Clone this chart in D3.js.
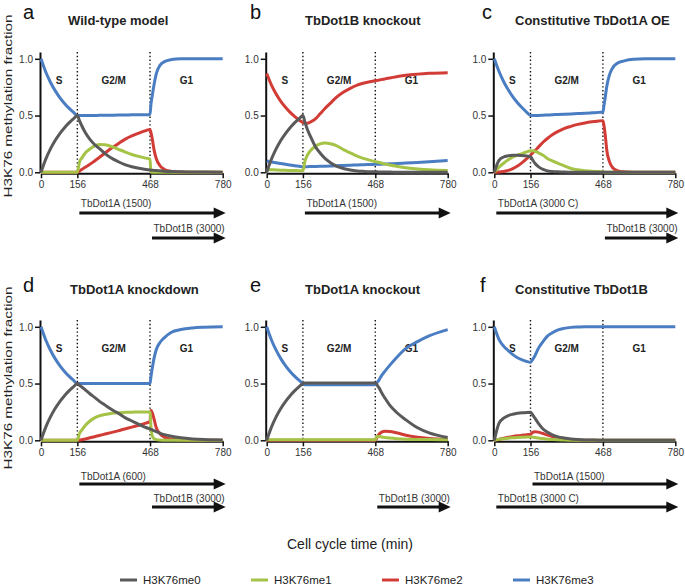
<!DOCTYPE html>
<html><head><meta charset="utf-8">
<script src="https://cdn.jsdelivr.net/npm/d3@7"></script>
<style>body{margin:0;background:#fff}svg{display:block}text{font-family:"Liberation Sans",Arial,sans-serif}</style>
</head><body><svg id="chart" width="685" height="587"></svg>
<script>
// ---------- data ----------
const time = [0,20,40,60,80,100,120,140,156,165,175,190,210,230,250,275,300,330,360,390,420,450,468,472,478,485,495,510,530,560,600,650,700,780];

const a_me0 = [0,0.114,0.204,0.278,0.339,0.391,0.435,0.473,0.5, 0.455,0.41,0.35,0.29,0.245,0.21,0.165,0.128,0.095,0.068,0.049,0.035,0.025, 0.02, 0.019,0.018,0.017,0.015,0.013,0.01,0.007,0.005,0.003,0.002,0.001];
const a_me1 = [0,0,0,0,0,0,0,0,0, 0.09,0.125,0.17,0.205,0.232,0.244,0.242,0.23,0.205,0.18,0.157,0.14,0.125, 0.117, 0,0,0,0,0,0,0,0,0,0,0];
const a_me2 = [0,0,0,0,0,0,0,0,0, 0.01,0.025,0.045,0.07,0.1,0.13,0.17,0.21,0.25,0.29,0.32,0.345,0.367, 0.378, 0.35,0.29,0.2,0.12,0.06,0.025,0.008,0.002,0,0,0];
const a_me3 = [1,0.886,0.796,0.722,0.661,0.609,0.565,0.527,0.5, 0.5,0.5,0.5,0.501,0.501,0.502,0.502,0.503,0.504,0.505,0.506,0.507,0.508, 0.51, 0.6,0.68,0.77,0.87,0.94,0.975,0.993,1,1,1,1];

const b_me0 = [0,0.114,0.204,0.278,0.339,0.391,0.435,0.473,0.5, 0.44,0.38,0.31,0.225,0.17,0.125,0.085,0.055,0.034,0.02,0.012,0.008,0.005, 0.004, 0.004,0.004,0.003,0.003,0.002,0.002,0.001,0.001,0,0,0];
const b_me1 = [0.025,0.023,0.021,0.019,0.017,0.016,0.015,0.014,0.013, 0.1,0.15,0.195,0.23,0.25,0.258,0.252,0.235,0.2,0.172,0.142,0.12,0.103, 0.094, 0.092,0.09,0.087,0.082,0.072,0.064,0.053,0.04,0.03,0.022,0.015];
const b_me2 = [0.87,0.771,0.693,0.628,0.575,0.53,0.492,0.459,0.438, 0.432,0.432,0.445,0.47,0.515,0.56,0.61,0.66,0.705,0.74,0.768,0.787,0.8, 0.807, 0.808,0.81,0.813,0.817,0.823,0.831,0.842,0.855,0.865,0.872,0.878];
const b_me3 = [0.1,0.092,0.084,0.077,0.07,0.064,0.058,0.053,0.05, 0.05,0.05,0.051,0.052,0.053,0.054,0.056,0.058,0.06,0.062,0.065,0.067,0.069, 0.07, 0.07,0.071,0.071,0.072,0.073,0.075,0.077,0.081,0.086,0.092,0.103];

const c_me0 = [0,0.105,0.135,0.145,0.15,0.151,0.148,0.143,0.138, 0.11,0.08,0.05,0.025,0.012,0.007,0.004,0.002,0.001,0,0,0,0, 0, 0,0,0,0,0,0,0,0,0,0,0];
const c_me1 = [0,0.045,0.08,0.11,0.135,0.152,0.165,0.18,0.19, 0.19,0.185,0.172,0.15,0.12,0.1,0.078,0.058,0.034,0.022,0.014,0.009,0.006, 0.005, 0.002,0,0,0,0,0,0,0,0,0,0];
const c_me2 = [0,0.002,0.007,0.017,0.033,0.055,0.085,0.12,0.15, 0.17,0.19,0.222,0.265,0.3,0.33,0.36,0.385,0.405,0.422,0.435,0.445,0.452, 0.455, 0.42,0.33,0.19,0.1,0.04,0.015,0.004,0.001,0,0,0];
const c_me3 = [1,0.89,0.8,0.727,0.665,0.613,0.568,0.528,0.5, 0.5,0.5,0.501,0.503,0.505,0.507,0.509,0.511,0.514,0.517,0.52,0.524,0.528, 0.53, 0.58,0.66,0.76,0.85,0.92,0.96,0.982,0.996,1,1,1];

const d_me0 = [0,0.114,0.204,0.278,0.339,0.391,0.435,0.473,0.5, 0.485,0.47,0.445,0.41,0.378,0.345,0.31,0.275,0.24,0.2,0.17,0.14,0.113, 0.1, 0.097,0.092,0.085,0.076,0.064,0.05,0.035,0.022,0.012,0.006,0.002];
const d_me1 = [0,0,0,0,0,0,0,0,0, 0.06,0.09,0.13,0.17,0.198,0.215,0.228,0.237,0.243,0.246,0.248,0.249,0.25, 0.25, 0.12,0.035,0.015,0.006,0.002,0,0,0,0,0,0];
const d_me2 = [0,0,0,0,0,0,0,0,0, 0.002,0.005,0.012,0.022,0.032,0.042,0.055,0.068,0.083,0.1,0.116,0.133,0.152, 0.165, 0.265,0.24,0.19,0.11,0.06,0.028,0.01,0.002,0,0,0];
const d_me3 = [1,0.886,0.796,0.722,0.661,0.609,0.565,0.527,0.5, 0.5,0.5,0.5,0.5,0.5,0.5,0.5,0.5,0.5,0.5,0.5,0.5,0.5, 0.5, 0.56,0.64,0.72,0.8,0.86,0.905,0.952,0.976,0.99,0.996,1];

const e_me0 = [0,0.114,0.204,0.278,0.339,0.391,0.435,0.473,0.5, 0.505,0.505,0.505,0.505,0.505,0.505,0.505,0.505,0.505,0.505,0.505,0.505,0.505, 0.505, 0.5,0.48,0.46,0.42,0.37,0.31,0.245,0.18,0.11,0.065,0.024];
const e_me1 = [0.005,0.005,0.005,0.005,0.005,0.005,0.005,0.005,0.005, 0.005,0.005,0.005,0.005,0.005,0.005,0.005,0.005,0.005,0.005,0.005,0.005,0.005, 0.005, 0.025,0.033,0.033,0.03,0.025,0.02,0.014,0.009,0.007,0.006,0.005];
const e_me2 = [0,0,0,0,0,0,0,0,0, 0,0,0,0,0,0,0,0,0,0,0,0,0, 0, 0.01,0.035,0.055,0.072,0.08,0.078,0.066,0.045,0.028,0.017,0.007];
const e_me3 = [1,0.886,0.796,0.722,0.661,0.609,0.565,0.527,0.5, 0.49,0.49,0.49,0.49,0.49,0.49,0.49,0.49,0.49,0.49,0.49,0.49,0.49, 0.49, 0.5,0.515,0.535,0.57,0.61,0.66,0.73,0.81,0.87,0.92,0.975];

const f_me0 = [0,0.15,0.195,0.218,0.23,0.238,0.243,0.246,0.247, 0.225,0.195,0.15,0.1,0.07,0.048,0.03,0.02,0.011,0.006,0.003,0.002,0.001, 0.001, 0,0,0,0,0,0,0,0,0,0,0];
const f_me1 = [0,0.008,0.014,0.018,0.022,0.025,0.027,0.029,0.03, 0.028,0.025,0.02,0.015,0.01,0.007,0.004,0.002,0.001,0,0,0,0, 0, 0,0,0,0,0,0,0,0,0,0,0];
const f_me2 = [0,0.008,0.018,0.027,0.034,0.04,0.045,0.05,0.053, 0.07,0.076,0.072,0.06,0.045,0.032,0.02,0.012,0.006,0.003,0.001,0,0, 0, 0,0,0,0,0,0,0,0,0,0,0];
const f_me3 = [1,0.89,0.83,0.79,0.755,0.727,0.708,0.694,0.688, 0.71,0.745,0.81,0.87,0.92,0.948,0.973,0.986,0.995,0.998,1,1,1, 1, 1,1,1,1,1,1,1,1,1,1,1];

const panelLetters = ["a","b","c","d","e","f"];
const panelTitles = ["Wild-type model","TbDot1B knockout","Constitutive TbDot1A OE","TbDot1A knockdown","TbDot1A knockout","Constitutive TbDot1B"];
const seriesNames = ["H3K76me0","H3K76me1","H3K76me2","H3K76me3"];
const xTicks = [0,156,468,780];
const yTicks = [0,0.5,1.0];
const phaseBounds = [156,468];
const phaseLabels = ["S","G2/M","G1"];
const phaseCenters = [78,312,624];
const arrowPanels = ["a","a","b","c","c","d","d","e","f","f"];
const arrowLabels = ["TbDot1A (1500)","TbDot1B (3000)","TbDot1A (1500)","TbDot1A (3000 C)","TbDot1B (3000)","TbDot1A (600)","TbDot1B (3000)","TbDot1B (3000)","TbDot1A (1500)","TbDot1B (3000 C)"];
const arrowStarts = [156,468,156,0,468,156,468,468,156,0];
const arrowLanes = [0,1,0,0,1,0,1,1,0,1];
const xTitle = "Cell cycle time (min)";
const yTitle = "H3K76 methylation fraction";

const panelSeries = {
  a:[a_me0,a_me1,a_me2,a_me3], b:[b_me0,b_me1,b_me2,b_me3], c:[c_me0,c_me1,c_me2,c_me3],
  d:[d_me0,d_me1,d_me2,d_me3], e:[e_me0,e_me1,e_me2,e_me3], f:[f_me0,f_me1,f_me2,f_me3]
};

// ---------- layout / style ----------
const colors = ["#5a5a5a","#a5c346","#d23c37","#4b7dc3"];
const colX = [[41,222.7],[266.7,447.7],[494.3,675.3]];
const rowZero = [172.3,440.3];
const unitPx = 113.5;
const yTop = 1.06;
const letterPos = [[23,18.5],[250,18.5],[482,18.5],[23,291.5],[250,291.5],[480,291.5]];
const titlePos = [[68,25],[305,25],[515,25],[70,294],[305,294],[515,294]];
const arrowY = [[213,238],[484,507]];
const arrowTextY = [[207,232],[479.5,501.5]];
const yTitleCenter = [106,378];

const svg = d3.select("#chart");

panelLetters.forEach((id,i)=>{
  const row = Math.floor(i/3), col = i%3;
  const x = d3.scaleLinear().domain([0,780]).range(colX[col]);
  const y0 = rowZero[row];
  const y = d3.scaleLinear().domain([0,yTop]).range([y0, y0-yTop*unitPx]);
  const g = svg.append("g");

  g.append("text").attr("x",letterPos[i][0]).attr("y",letterPos[i][1]).attr("font-size",20).attr("fill","#111").text(id);
  g.append("text").attr("x",titlePos[i][0]).attr("y",titlePos[i][1]).attr("font-size",13).attr("font-weight","bold").attr("fill","#222").text(panelTitles[i]);

  phaseBounds.forEach(t=>{
    g.append("line").attr("x1",x(t)).attr("x2",x(t)).attr("y1",y(yTop)).attr("y2",y0)
      .attr("stroke","#111").attr("stroke-width",1.4).attr("stroke-dasharray","1.4,2.4");
  });
  phaseLabels.forEach((lab,k)=>{
    g.append("text").attr("x",x(phaseCenters[k])).attr("y",y0-88).attr("text-anchor","middle")
      .attr("font-size",10).attr("font-weight","bold").attr("fill","#222").text(lab);
  });

  const ya = g.append("g").attr("transform",`translate(${x(0)-1},0)`)
    .call(d3.axisLeft(y).tickValues(yTicks).tickFormat(d3.format(".1f")).tickSize(5).tickPadding(2).tickSizeOuter(0));
  const xa = g.append("g").attr("transform",`translate(0,${y0+1})`)
    .call(d3.axisBottom(x).tickValues(xTicks).tickFormat(d3.format("d")).tickSize(5).tickPadding(3).tickSizeOuter(0));
  [ya,xa].forEach(a=>{
    a.select(".domain").attr("stroke","#111").attr("stroke-width",2);
    a.selectAll(".tick line").attr("stroke","#111").attr("stroke-width",1.5);
    a.selectAll(".tick text").attr("font-size",10).attr("fill","#333").attr("font-family",'"Liberation Sans",Arial,sans-serif');
  });

  const line = d3.line().x((d,k)=>x(time[k])).y(d=>y(d)).curve(d3.curveMonotoneX);
  [3,2,1,0].forEach(s=>{
    g.append("path").datum(panelSeries[id][s]).attr("d",line)
      .attr("fill","none").attr("stroke",colors[s]).attr("stroke-width",3).attr("stroke-linejoin","round");
  });

  arrowPanels.forEach((p,k)=>{
    if(p!==id) return;
    const lane = arrowLanes[k];
    const ay = arrowY[row][lane];
    const xs = x(arrowStarts[k])+2;
    const tip = x(780)+3;
    g.append("text").attr("x",xs+1.5).attr("y",arrowTextY[row][lane]).attr("font-size",10).attr("fill","#333").text(arrowLabels[k]);
    g.append("line").attr("x1",xs).attr("x2",tip-10).attr("y1",ay).attr("y2",ay).attr("stroke","#111").attr("stroke-width",3);
    g.append("path").attr("d",`M${tip},${ay} L${tip-12},${ay-5.5} L${tip-12},${ay+5.5} Z`).attr("fill","#111");
  });
});

yTitleCenter.forEach(cy=>{
  svg.append("text").attr("transform",`translate(11.5,${cy}) rotate(-90)`).attr("text-anchor","middle")
    .attr("font-size",11.5).attr("textLength",183).attr("lengthAdjust","spacingAndGlyphs").attr("fill","#222").text(yTitle);
});
svg.append("text").attr("x",350).attr("y",549).attr("text-anchor","middle").attr("font-size",14).attr("fill","#222").text(xTitle);

const legX = [120,251,382,513];
seriesNames.forEach((nm,s)=>{
  svg.append("line").attr("x1",legX[s]).attr("x2",legX[s]+17).attr("y1",580).attr("y2",580).attr("stroke",colors[s]).attr("stroke-width",3);
  svg.append("text").attr("x",legX[s]+23).attr("y",584).attr("font-size",11.5).attr("fill","#222").text(nm);
});
</script></body></html>
